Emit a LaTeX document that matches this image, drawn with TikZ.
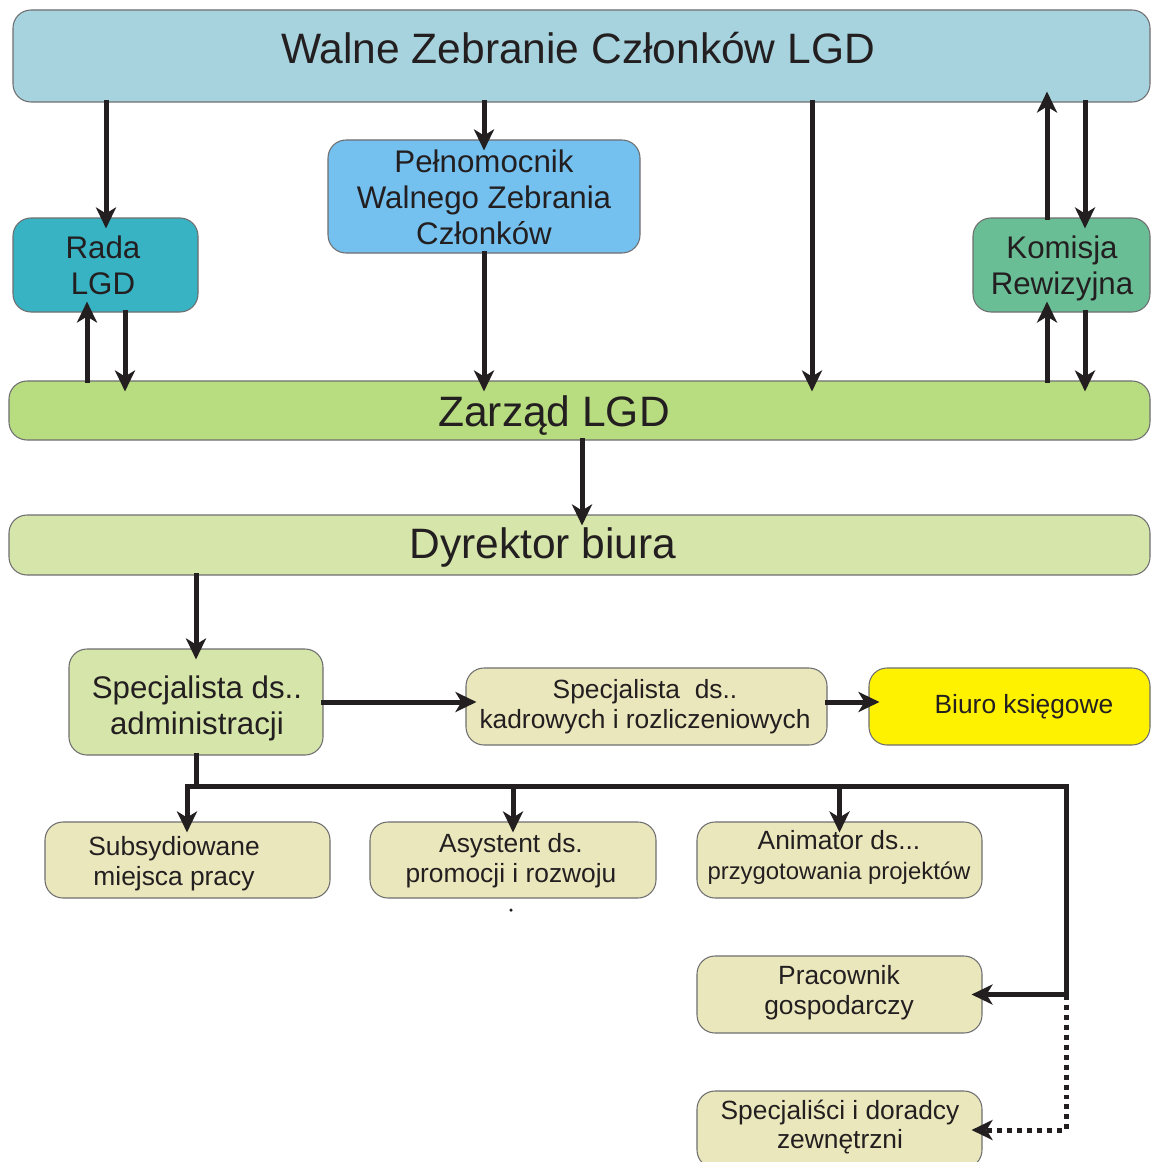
\documentclass[tikz,border=0pt]{standalone}
\usepackage{fontspec}
\setmainfont{Liberation Sans}
\usetikzlibrary{arrows.meta,fit}
\definecolor{cWalne}{RGB}{166,211,222}
\definecolor{cPeln}{RGB}{116,193,240}
\definecolor{cRada}{RGB}{56,179,196}
\definecolor{cKomisja}{RGB}{106,190,150}
\definecolor{cZarzad}{RGB}{184,220,128}
\definecolor{cDyr}{RGB}{214,229,170}
\definecolor{cBeige}{RGB}{234,231,188}
\definecolor{cBiuro}{RGB}{255,242,0}
\definecolor{cBorder}{RGB}{110,110,112}
\definecolor{cTxt}{RGB}{35,31,32}
\begin{document}
\begin{tikzpicture}[x=0.02cm,y=-0.02cm,
  box/.style={draw=cBorder, line width=0.6pt, rounded corners=0.36cm, inner sep=0pt},
  big/.style={font=\fontsize{24.2}{28}\selectfont, text=cTxt},
  med/.style={font=\fontsize{17.8}{20.4}\selectfont, text=cTxt, align=center},
  sml/.style={font=\fontsize{15}{17}\selectfont, text=cTxt, align=center},
  ln/.style={line width=0.1cm, draw=cTxt, line cap=rect},
  arr/.style={ln, -{Stealth[length=0.42cm,width=0.4cm,inset=0.12cm]}, shorten >=-0.22cm},
  dots/.style={line cap=butt, dash pattern=on 0.1cm off 0.1cm}
]
\clip (0,0) rectangle (1151,1162);
\fill[white] (0,0) rectangle (1151,1162);

% boxes
\node[box, fill=cWalne, fit={(13,10) (1150,102)}] (walne) {};
\node[box, fill=cPeln, fit={(328,140) (640,253)}] (peln) {};
\node[box, fill=cRada, fit={(13,218) (198,312)}] (rada) {};
\node[box, fill=cKomisja, fit={(973,218) (1150,312)}] (komisja) {};
\node[box, fill=cZarzad, fit={(9,381) (1150,440)}] (zarzad) {};
\node[box, fill=cDyr, fit={(9,515) (1150,575)}] (dyr) {};
\node[box, fill=cDyr, fit={(69,649) (323,755)}] (specadm) {};
\node[box, fill=cBeige, fit={(466,668) (827,745)}] (kadr) {};
\node[box, fill=cBiuro, fit={(869,668) (1150,745)}] (biuro) {};
\node[box, fill=cBeige, fit={(45,822) (330,898)}] (subsyd) {};
\node[box, fill=cBeige, fit={(370,822) (656,898)}] (asyst) {};
\node[box, fill=cBeige, fit={(697,822) (982,898)}] (anim) {};
\node[box, fill=cBeige, fit={(697,956) (982,1033)}] (prac) {};
\node[box, fill=cBeige, fit={(697,1091) (982,1168)}] (spec) {};

% texts
\node[big, anchor=base] (walneT) at (578,64) {Walne Zebranie Członków LGD};
\node[med] (pelnT) at (484,197) {Pełnomocnik\\Walnego Zebrania\\Członków};
\node[med] (radaT) at (103,265) {Rada\\LGD};
\node[med] (komisjaT) at (1062,268) {Komisja\\Rewizyjna};
\node[big, anchor=base] (zarzadT) at (554,426) {Zarząd LGD};
\node[big, anchor=base] (dyrT) at (543,558) {Dyrektor biura};
\node[med] (specadmT) at (197,708) {Specjalista ds..\\administracji};
\node[sml] (kadrT) at (645,707) {Specjalista\ \ ds..\\kadrowych i rozliczeniowych};
\node[sml, anchor=base] (biuroT) at (1024,713) {Biuro księgowe};
\node[sml] (subsydT) at (174,864) {Subsydiowane\\miejsca pracy};
\node[sml] (asystT) at (511,861) {Asystent ds.\\promocji i rozwoju};
\node[sml] (animT) at (839,857) {Animator ds...\\{\fontsize{13.6}{16}\selectfont przygotowania projektów}};
\node[sml] (pracT) at (839,993) {Pracownik\\gospodarczy};
\node[sml] (specT) at (840,1127) {Specjaliści i doradcy\\zewnętrzni};
\fill[cTxt] (511,910) circle (0.035cm);

% upper connectors
\draw[arr] (walne.south -| 106,0) -- (rada.north -| 106,0);
\draw[arr] (walne.south -| peln.north) -- (peln.north);
\draw[arr] (peln.south) -- (zarzad.north -| peln.south);
\draw[arr] (walne.south -| 812,0) -- (zarzad.north -| 812,0);
\draw[arr] (komisja.north -| 1047,0) -- (walne.south -| 1047,0);
\draw[arr] (walne.south -| 1085,0) -- (komisja.north -| 1085,0);
\draw[arr] (zarzad.north -| 1047,0) -- (komisja.south -| 1047,0);
\draw[arr] (komisja.south -| 1085,0) -- (zarzad.north -| 1085,0);
\draw[arr] (zarzad.north -| 87,0) -- (rada.south -| 87,0);
\draw[arr] (rada.south -| 125,0) -- (zarzad.north -| 125,0);
\draw[arr] (zarzad.south -| 582,0) -- (dyr.north -| 582,0);
\draw[arr] (dyr.south -| specadm.north) -- (specadm.north);
\draw[arr] (specadm.east) -- (kadr.west |- specadm.east);
\draw[arr] (kadr.east |- specadm.east) -- (biuro.west |- specadm.east);

% tree
\coordinate (jL) at (187,786);
\coordinate (jR) at (1066,786);
\coordinate (jP) at (jR |- prac.east);
\coordinate (jS) at (1066,1130);
\draw[ln] (specadm.south) -- (specadm.south |- jL);
\draw[ln] (jL) -- (jR) -- (jP);
\draw[arr] (jL) -- (subsyd.north -| jL);
\draw[arr] (asyst.north |- jL) -- (asyst.north);
\draw[arr] (anim.north |- jL) -- (anim.north);
\draw[arr] (jP) -- (prac.east);
\draw[arr, dots] (jP) -- (jS) -- (spec.east |- jS);
\end{tikzpicture}
\end{document}
